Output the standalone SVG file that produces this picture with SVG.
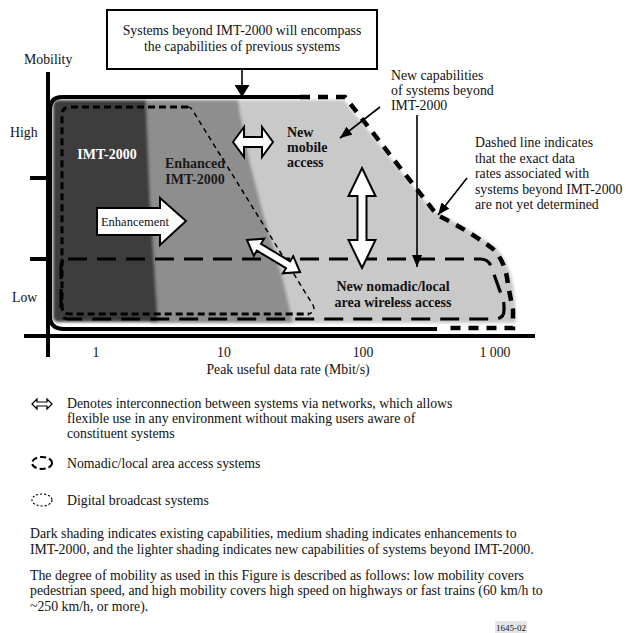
<svg xmlns="http://www.w3.org/2000/svg" width="626" height="633" viewBox="0 0 626 633" font-family="'Liberation Serif', 'DejaVu Serif', serif">
<defs>
<style>
text{fill:#111;}
.t{font-size:13.8px;}
.b{font-size:14px;font-weight:bold;}
.ax{stroke:#000;stroke-width:4;fill:none;}
.blk{fill:#fff;stroke:#000;stroke-width:2;stroke-linejoin:miter;}
.ln{stroke:#000;stroke-width:1.6;fill:none;}
.env{stroke:#000;fill:none;}
</style>
<marker id="ah" viewBox="0 0 12 10" refX="12" refY="5" markerWidth="12" markerHeight="10" markerUnits="userSpaceOnUse" orient="auto"><path d="M0,0 L12,5 L0,10 z" fill="#000"/></marker>
<marker id="ah2" viewBox="0 0 12 15" refX="12" refY="7.5" markerWidth="12" markerHeight="15" markerUnits="userSpaceOnUse" orient="auto"><path d="M0,0 L12,7.5 L0,15 z" fill="#000"/></marker>
<filter id="soft" x="-5%" y="-5%" width="110%" height="110%"><feGaussianBlur stdDeviation="1.5"/></filter>
</defs>
<rect width="626" height="633" fill="#fff"/>

<g id="shading" filter="url(#soft)">
<path d="M235,100 L344,100 L432,210 Q468,228 494,246 Q512,262 515,300 L516,323 L280,323 Z" fill="#c9c9c9"/>
<path d="M140,100 L238,100 L240,113 L250,163 L263,213 L283,280 L293,323 L150,323 Z" fill="#8e8e8e"/>
<path d="M58,100 L146,100 L150,200 L158,322 L58,322 Q53,322 53,316 L53,106 Q53,100 58,100 Z" fill="#3e3e3e"/>
</g>

<g id="axes">
<line x1="48" y1="72" x2="48" y2="357" class="ax"/>
<line x1="24" y1="336" x2="535" y2="336" class="ax"/>
<line x1="30" y1="178" x2="48" y2="178" class="ax"/>
<line x1="30" y1="259" x2="48" y2="259" class="ax"/>
<text x="24" y="64" class="t">Mobility</text>
<text x="10" y="137" class="t">High</text>
<text x="12" y="302" class="t">Low</text>
<text x="96" y="357" class="t" text-anchor="middle">1</text>
<text x="224" y="357" class="t" text-anchor="middle">10</text>
<text x="363" y="357" class="t" text-anchor="middle">100</text>
<text x="495" y="357" class="t" text-anchor="middle">1 000</text>
<text x="288" y="374" class="t" text-anchor="middle">Peak useful data rate (Mbit/s)</text>
</g>

<g id="beyond-imt2000">
<path class="env" d="M300,97 L62,97 Q50,97 50,110 L50,316 Q50,329 64,329 L437,329" stroke-width="4"/>
<path class="env" d="M300,97 L345,97 L437,215 Q468,230 493,249 Q506,262 508,285 L513,310 L513,328 L445,328" stroke-width="4.5" stroke-dasharray="10 8"/>
</g>

<g id="nomadic-local">
<path class="env" d="M68,259 L480,259 Q488,259 491,266 L501,294 Q504,300 504,307 L504,310 Q504,319 494,319 L68,319 Q61,319 61,311 L61,267 Q61,259 68,259 Z" stroke-width="3.2" stroke-dasharray="19 10"/>
<text x="393" y="291" class="b" text-anchor="middle">New nomadic/local</text>
<text x="393" y="307" class="b" text-anchor="middle">area wireless access</text>
</g>

<g id="digital-broadcast">
<path class="env" d="M188,107 L70,107 Q62,107 62,115 L62,306 Q62,314 70,314 L309,314" stroke-width="3" stroke-dasharray="7 4"/>
<path class="env" d="M188,107 Q191,107 193,111 L313,305 Q316,311 309,314" stroke-width="1.5" stroke-dasharray="5 4"/>
</g>

<g id="imt2000">
<text x="107" y="159" class="b" text-anchor="middle" style="fill:#fff">IMT-2000</text>
</g>

<g id="enhanced-imt2000">
<text x="195" y="168" class="b" text-anchor="middle" style="fill:#1a1a1a">Enhanced</text>
<text x="195" y="184" class="b" text-anchor="middle" style="fill:#1a1a1a">IMT-2000</text>
</g>

<g id="new-mobile-access">
<text x="287" y="137" class="b">New</text>
<text x="287" y="152" class="b">mobile</text>
<text x="287" y="167" class="b">access</text>
</g>

<g id="enhancement">
<polygon class="blk" points="97,208 160,208 160,198 186,221 160,245 160,235 97,235"/>
<text x="135" y="226" text-anchor="middle" style="font-size:12.5px">Enhancement</text>
</g>

<g id="interconnections">
<polygon class="blk" points="233,142 244,127 244,137 262,137 262,127 273,142 262,157 262,147 244,147 244,157"/>
<polygon class="blk" points="362,168 375.5,196 366.5,196 366.5,240 375.5,240 362,268 348.5,240 357.5,240 357.5,196 348.5,196"/>
<polygon class="blk" transform="rotate(31.1 273.5 256)" points="242.5,256 256.5,246 256.5,252 290.5,252 290.5,246 304.5,256 290.5,266 290.5,260 256.5,260 256.5,266"/>
</g>

<g id="box-note">
<rect x="107" y="10" width="270" height="59" fill="#fff" stroke="#000" stroke-width="2"/>
<text x="242" y="35" text-anchor="middle" class="t">Systems beyond IMT-2000 will encompass</text>
<text x="242" y="51" text-anchor="middle" class="t">the capabilities of previous systems</text>
</g>

<g id="note-new-capabilities">
<text x="391" y="80" class="t">New capabilities</text>
<text x="391" y="95" class="t">of systems beyond</text>
<text x="391" y="110" class="t">IMT-2000</text>
</g>

<g id="note-dashed-line">
<text x="475" y="147" class="t">Dashed line indicates</text>
<text x="475" y="162.5" class="t">that the exact data</text>
<text x="475" y="178" class="t">rates associated with</text>
<text x="475" y="193.5" class="t">systems beyond IMT-2000</text>
<text x="475" y="209" class="t">are not yet determined</text>
</g>

<g id="connectors">
<line x1="242" y1="69" x2="242" y2="97" class="ln" stroke-width="2" marker-end="url(#ah2)"/>
<line x1="380" y1="107" x2="340" y2="138" class="ln" marker-end="url(#ah)"/>
<line x1="417" y1="115" x2="417" y2="267" class="ln" marker-end="url(#ah)"/>
<line x1="467" y1="178" x2="438" y2="215" class="ln" marker-end="url(#ah)"/>
</g>

<g id="legend">
<polygon points="32,404 37,399 37,402 47,402 47,399 52,404 47,409 47,406 37,406 37,409" fill="#fff" stroke="#000" stroke-width="1.2"/>
<text x="67" y="408" class="t">Denotes interconnection between systems via networks, which allows</text>
<text x="67" y="423" class="t">flexible use in any environment without making users aware of</text>
<text x="67" y="438" class="t">constituent systems</text>
<ellipse cx="42" cy="463" rx="10" ry="6" fill="none" stroke="#000" stroke-width="2" stroke-dasharray="6 3"/>
<text x="67" y="468" class="t">Nomadic/local area access systems</text>
<ellipse cx="42" cy="500" rx="10" ry="6" fill="none" stroke="#000" stroke-width="1.2" stroke-dasharray="2 2"/>
<text x="67" y="505" class="t">Digital broadcast systems</text>
</g>

<g id="notes">
<text x="30" y="538" class="t">Dark shading indicates existing capabilities, medium shading indicates enhancements to</text>
<text x="30" y="554" class="t">IMT-2000, and the lighter shading indicates new capabilities of systems beyond IMT-2000.</text>
<text x="30" y="580" class="t">The degree of mobility as used in this Figure is described as follows: low mobility covers</text>
<text x="30" y="595" class="t">pedestrian speed, and high mobility covers high speed on highways or fast trains (60 km/h to</text>
<text x="30" y="611" class="t">~250 km/h, or more).</text>
<rect x="495" y="621" width="32" height="12" fill="#e6e6e6"/>
<text x="511" y="631" text-anchor="middle" style="font-size:9px">1645-02</text>
</g>
</svg>
